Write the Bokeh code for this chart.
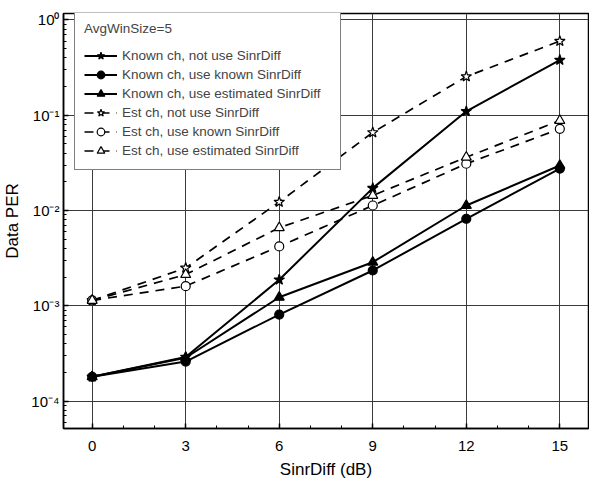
from bokeh.plotting import figure
from bokeh.models import FixedTicker, CustomJSTickFormatter, Legend, LegendItem, Range1d
from bokeh.embed import file_html
from bokeh.resources import INLINE

# ---- data ----
sinr_diff = [0, 3, 6, 9, 12, 15]
known_not_use = [1.8e-4, 2.9e-4, 1.88e-3, 1.72e-2, 0.110, 0.38]
known_use_known = [1.8e-4, 2.6e-4, 8.1e-4, 2.35e-3, 8.2e-3, 2.75e-2]
known_use_est = [1.8e-4, 2.85e-4, 1.23e-3, 2.87e-3, 1.13e-2, 2.97e-2]
est_not_use = [1.14e-3, 2.5e-3, 1.23e-2, 6.6e-2, 0.255, 0.60]
est_use_known = [1.14e-3, 1.61e-3, 4.2e-3, 1.13e-2, 3.1e-2, 7.2e-2]
est_use_est = [1.14e-3, 2.13e-3, 6.6e-3, 1.44e-2, 3.63e-2, 8.8e-2]

labels = [
    "Known ch, not use SinrDiff",
    "Known ch, use known SinrDiff",
    "Known ch, use estimated SinrDiff",
    "Est ch, not use SinrDiff",
    "Est ch, use known SinrDiff",
    "Est ch, use estimated SinrDiff",
]
x_ticks = [0, 3, 6, 9, 12, 15]
y_ticks = [1e-4, 1e-3, 1e-2, 1e-1, 1e0]

FONT = "Liberation Sans"

p = figure(width=589, height=483, y_axis_type="log",
           x_range=Range1d(-0.92, 15.92), y_range=Range1d(5.16e-5, 1.17),
           output_backend="svg", toolbar_location=None,
           min_border_left=63, min_border_right=1, min_border_top=13, min_border_bottom=55,
           background_fill_color="white", border_fill_color="white")

p.outline_line_color = "black"
p.outline_line_width = 1.5

# axes
p.xaxis.ticker = FixedTicker(ticks=x_ticks, minor_ticks=[i for i in range(0, 16) if i % 3 != 0])
minor_y = [m * 10.0 ** e for e in range(-5, 1) for m in range(2, 10)]
p.yaxis.ticker = FixedTicker(ticks=y_ticks, minor_ticks=minor_y)
p.yaxis.formatter = CustomJSTickFormatter(code=r"""
const e = Math.round(Math.log10(tick));
const sup = {'0':'\u2070','1':'\u00b9','2':'\u00b2','3':'\u00b3','4':'\u2074','5':'\u2075','-':'\u207b'};
return '10' + String(e).split('').map(c => sup[c]).join('');
""")

for ax in (p.xaxis[0], p.yaxis[0]):
    ax.axis_line_color = "black"
    ax.axis_line_width = 1.5
    ax.major_tick_in = 5
    ax.major_tick_out = 0
    ax.minor_tick_in = 3
    ax.minor_tick_out = 0
    ax.major_tick_line_color = "black"
    ax.minor_tick_line_color = "black"
    ax.major_tick_line_width = 1.5
    ax.major_label_text_font = FONT
    ax.major_label_text_font_size = "15px"
    ax.major_label_text_color = "black"
    ax.axis_label_text_font = FONT
    ax.axis_label_text_font_size = "17px"
    ax.axis_label_text_font_style = "normal"
    ax.axis_label_text_color = "black"

p.xaxis.axis_label = "SinrDiff (dB)"
p.yaxis.axis_label = "Data PER"
p.xaxis.major_label_standoff = 12
p.xaxis.axis_label_standoff = 6
p.yaxis.major_label_standoff = 4
p.yaxis.axis_label_standoff = 6

p.xgrid.grid_line_color = "#3a3a3a"
p.ygrid.grid_line_color = "#3a3a3a"
p.xgrid.grid_line_width = 1
p.ygrid.grid_line_width = 1

series = [
    (known_not_use, "star", "black", None),
    (known_use_known, "circle", "black", None),
    (known_use_est, "triangle", "black", None),
    (est_not_use, "star", "white", "9 7"),
    (est_use_known, "circle", "white", "9 7"),
    (est_use_est, "triangle", "white", "9 7"),
]
sizes = {"star": 11, "circle": 9, "triangle": 10}

items = []
for (vals, marker, fill, dash), lab in zip(series, labels):
    if dash is None:
        ln = p.line(sinr_diff, vals, line_color="black", line_width=2)
    else:
        ln = p.line(sinr_diff, vals, line_color="black", line_width=1.7, line_dash=dash)
    sc = p.scatter(sinr_diff, vals, marker=marker, size=sizes[marker],
                   fill_color=fill, line_color="black", line_width=1.2)
    items.append(LegendItem(label=lab, renderers=[ln, sc]))

legend = Legend(items=items, location=(11, 258), title="AvgWinSize=5",
                label_text_font=FONT, label_text_font_size="13.5px",
                title_text_font=FONT, title_text_font_size="13.5px",
                title_text_font_style="normal", title_standoff=10,
                glyph_width=33, glyph_height=19, label_height=19, label_width=209,
                label_standoff=5, padding=9, spacing=0, margin=0,
                border_line_color="black", border_line_width=1.2,
                background_fill_color="white", background_fill_alpha=1)
p.add_layout(legend)

open("out.html", "w", encoding="utf-8").write(file_html(p, INLINE))
